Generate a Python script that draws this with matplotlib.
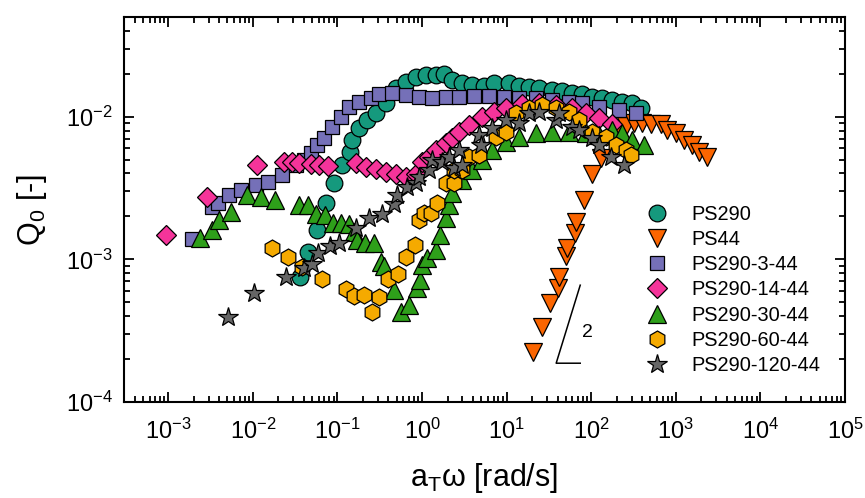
import numpy as np
import matplotlib
matplotlib.use('Agg')
import matplotlib.pyplot as plt
from matplotlib.ticker import LogLocator, NullFormatter

plt.rcParams['font.family'] = ['Liberation Sans', 'DejaVu Sans']
plt.rcParams['mathtext.fontset'] = 'custom'
plt.rcParams['mathtext.rm'] = 'Liberation Sans'
plt.rcParams['axes.unicode_minus'] = False

# Data (x = aT*omega [rad/s], y = Q0 [-])
ps290_x = [0.036, 0.0448, 0.0572, 0.0731, 0.091, 0.113, 0.1406, 0.1485, 0.1796, 0.2234,
           0.2856, 0.375, 0.492, 0.647, 0.849, 1.115, 1.46, 1.82, 2.26, 2.97, 3.91, 5.42,
           7.11, 10.7, 14.1, 18.5, 24.3, 34.5, 45.4, 59.6, 78.2, 103, 135, 177, 233, 306, 391]
ps290_y = [7.5e-4, 1.12e-3, 1.60e-3, 2.48e-3, 3.43e-3, 4.58e-3, 5.65e-3, 6.85e-3, 8.33e-3,
           9.48e-3, 1.06e-2, 1.25e-2, 1.59e-2, 1.75e-2, 1.90e-2, 1.96e-2, 1.96e-2, 2.0e-2,
           1.81e-2, 1.72e-2, 1.67e-2, 1.64e-2, 1.72e-2, 1.72e-2, 1.64e-2, 1.61e-2, 1.59e-2,
           1.54e-2, 1.51e-2, 1.47e-2, 1.44e-2, 1.37e-2, 1.35e-2, 1.31e-2, 1.27e-2, 1.25e-2,
           1.15e-2]

ps44_x = [20.6, 26.3, 32.7, 40.7, 41.8, 50.6, 52.0, 64.7, 66.4, 82.6, 103, 131, 173, 214,
          259, 323, 402, 513, 673, 793, 1014, 1262, 1567, 1897, 2360]
ps44_y = [2.23e-4, 3.34e-4, 4.92e-4, 6.28e-4, 7.50e-4, 1.05e-3, 1.20e-3, 1.53e-3, 1.82e-3,
          2.60e-3, 3.96e-3, 5.13e-3, 6.85e-3, 7.82e-3, 8.61e-3, 9.03e-3, 9.03e-3, 8.89e-3,
          8.89e-3, 8.07e-3, 7.69e-3, 6.85e-3, 6.33e-3, 5.65e-3, 5.21e-3]

b3_x = [1.90e-3, 3.27e-3, 3.85e-3, 5.20e-3, 7.21e-3, 1.09e-2, 1.51e-2, 2.20e-2, 3.23e-2,
        4.02e-2, 4.85e-2, 5.72e-2, 6.92e-2, 8.61e-2, 0.110, 0.137, 0.180, 0.249, 0.310,
        0.442, 0.647, 0.921, 1.31, 1.92, 2.74, 4.12, 6.21, 9.34, 14.1, 22.3, 34.5, 54.9,
        78.2, 124, 214, 341]
b3_y = [1.38e-3, 2.32e-3, 2.48e-3, 2.82e-3, 3.06e-3, 3.32e-3, 3.48e-3, 3.90e-3, 4.58e-3,
        4.97e-3, 5.56e-3, 6.33e-3, 7.08e-3, 8.45e-3, 9.95e-3, 1.17e-2, 1.27e-2, 1.35e-2,
        1.44e-2, 1.47e-2, 1.42e-2, 1.37e-2, 1.35e-2, 1.37e-2, 1.37e-2, 1.40e-2, 1.40e-2,
        1.37e-2, 1.35e-2, 1.35e-2, 1.31e-2, 1.27e-2, 1.25e-2, 1.17e-2, 1.11e-2, 1.06e-2]

b14_x = [9.34e-4, 2.86e-3, 1.12e-2, 2.33e-2, 2.90e-2, 3.50e-2, 4.85e-2, 6.04e-2, 7.73e-2,
         0.166, 0.217, 0.286, 0.375, 0.492, 0.647, 0.849, 1.0, 1.21, 1.46, 1.92, 2.26,
         2.74, 3.60, 5.13, 7.11, 9.86, 15.3, 24.3, 38.5, 59.6, 87.2, 124, 177]
b14_y = [1.48e-3, 2.73e-3, 4.58e-3, 4.81e-3, 4.81e-3, 4.73e-3, 4.66e-3, 4.58e-3, 4.51e-3,
         4.73e-3, 4.43e-3, 4.30e-3, 4.09e-3, 3.96e-3, 3.77e-3, 3.96e-3, 4.81e-3, 5.21e-3,
         5.83e-3, 6.53e-3, 7.08e-3, 7.82e-3, 8.75e-3, 9.95e-3, 1.08e-2, 1.15e-2, 1.23e-2,
         1.25e-2, 1.21e-2, 1.15e-2, 1.06e-2, 9.79e-3, 8.89e-3]

b30_x = [2.36e-3, 3.27e-3, 3.96e-3, 5.50e-3, 8.49e-3, 1.24e-2, 1.82e-2, 3.50e-2, 4.48e-2,
         5.57e-2, 7.11e-2, 8.85e-2, 0.110, 0.137, 0.157, 0.170, 0.212, 0.270, 0.327, 0.355,
         0.466, 0.564, 0.702, 0.873, 0.947, 1.0, 1.15, 1.46, 1.63, 1.92, 2.09, 2.26, 2.97,
         3.91, 5.13, 6.73, 9.86, 14.1, 22.3, 34.5, 54.9, 87.2, 124, 177, 233, 306, 424]
b30_y = [1.41e-3, 1.60e-3, 1.88e-3, 2.14e-3, 2.82e-3, 2.73e-3, 2.60e-3, 2.40e-3, 2.40e-3,
         2.07e-3, 2.04e-3, 1.79e-3, 1.79e-3, 1.77e-3, 1.55e-3, 1.36e-3, 1.30e-3, 1.30e-3,
         9.55e-4, 8.95e-4, 6.07e-4, 4.26e-4, 4.77e-4, 6.28e-4, 7.14e-4, 9.1e-4, 1.02e-3,
         1.16e-3, 1.48e-3, 1.95e-3, 2.40e-3, 2.91e-3, 3.60e-3, 4.23e-3, 4.97e-3, 5.83e-3,
         6.64e-3, 7.19e-3, 7.69e-3, 7.82e-3, 7.82e-3, 7.69e-3, 7.44e-3, 8.07e-3, 7.69e-3,
         6.85e-3, 6.33e-3]

b60_x = [1.68e-2, 2.60e-2, 3.80e-2, 6.56e-2, 0.126, 0.157, 0.206, 0.256, 0.310, 0.396,
         0.520, 0.647, 0.826, 0.921, 1.06, 1.28, 1.51, 1.92, 2.39, 2.39, 2.97, 3.60, 4.73,
         7.51, 9.86, 12.9, 18.5, 26.3, 38.5, 54.9, 72.1, 103, 151, 198, 259, 297]
b60_y = [1.20e-3, 1.04e-3, 8.81e-4, 7.26e-4, 6.18e-4, 5.52e-4, 5.61e-4, 4.26e-4, 5.43e-4,
         7.26e-4, 7.87e-4, 1.04e-3, 1.26e-3, 1.88e-3, 2.11e-3, 2.11e-3, 2.48e-3, 3.43e-3,
         3.43e-3, 4.23e-3, 4.23e-3, 5.21e-3, 5.38e-3, 7.21e-3, 7.82e-3, 1.06e-2, 1.15e-2,
         1.21e-2, 1.15e-2, 1.08e-2, 9.48e-3, 7.82e-3, 7.21e-3, 6.33e-3, 5.83e-3, 5.38e-3]

b120_x = [5.06e-3, 1.03e-2, 2.46e-2, 4.02e-2, 4.99e-2, 5.88e-2, 8.15e-2, 0.104, 0.166,
          0.236, 0.336, 0.466, 0.506, 0.664, 0.849, 0.921, 1.21, 1.31, 1.72, 2.09, 2.39,
          2.74, 2.97, 4.73, 4.99, 6.73, 9.86, 14.1, 18.5, 24.3, 38.5, 41.8, 59.6, 72.1,
          103, 124, 173, 246]
b120_y = [3.93e-4, 5.78e-4, 7.50e-4, 8.67e-4, 9.25e-4, 1.10e-3, 1.24e-3, 1.30e-3, 1.66e-3,
          1.95e-3, 2.07e-3, 2.44e-3, 2.82e-3, 3.21e-3, 3.43e-3, 3.77e-3, 4.23e-3, 4.97e-3,
          4.81e-3, 5.21e-3, 4.37e-3, 5.83e-3, 4.58e-3, 7.43e-3, 6.33e-3, 8.33e-3, 9.48e-3,
          9.03e-3, 1.06e-2, 1.08e-2, 9.48e-3, 1.06e-2, 8.47e-3, 8.07e-3, 7.08e-3, 6.33e-3,
          5.21e-3, 4.58e-3]

# slope-2 guide
slope_x = [74.1, 38.5, 74.1]
slope_y = [6.59e-4, 1.87e-4, 1.87e-4]

x_major = [1e-3, 1e-2, 1e-1, 1e0, 1e1, 1e2, 1e3, 1e4, 1e5]
y_major = [1e-4, 1e-3, 1e-2]

series = [
    (ps290_x, ps290_y, 'PS290', 'o', '#15997d', 12),
    (ps44_x, ps44_y, 'PS44', 'v', '#fb6500', 12.5),
    (b3_x, b3_y, 'PS290-3-44', 's', '#7570b8', 10.6),
    (b14_x, b14_y, 'PS290-14-44', 'D', '#f5349a', 10.2),
    (b30_x, b30_y, 'PS290-30-44', '^', '#2e9f1a', 12.5),
    (b60_x, b60_y, 'PS290-60-44', 'h', '#f5aa00', 12.2),
    (b120_x, b120_y, 'PS290-120-44', '*', '#666666', 14.5),
]

fig = plt.figure(figsize=(8.65, 4.98), dpi=100)
ax = fig.add_axes([0.1434, 0.1928, 0.8335, 0.7731])

for x, y, lab, mk, col, ms in series:
    ax.plot(x, y, ls='none', marker=mk, ms=ms, mfc=col, mec='black', mew=0.9, label=lab)

ax.plot(slope_x, slope_y, color='black', lw=1.1)
ax.text(89.7, 3.08e-4, '2', fontsize=14, ha='center', va='center')

ax.set_xscale('log')
ax.set_yscale('log')
ax.set_xlim(3e-4, 1e5)
ax.set_ylim(1e-4, 5e-2)

ax.set_xticks(x_major)
ax.set_yticks(y_major)
ax.xaxis.set_minor_locator(LogLocator(base=10, subs=np.arange(2, 10), numticks=20))
ax.yaxis.set_minor_locator(LogLocator(base=10, subs=np.arange(2, 10), numticks=20))
ax.xaxis.set_minor_formatter(NullFormatter())
ax.yaxis.set_minor_formatter(NullFormatter())

for s in ax.spines.values():
    s.set_linewidth(1.5)
ax.tick_params(which='both', direction='in', top=True, right=True, width=1.3)
ax.tick_params(which='major', length=7.5, labelsize=17)
ax.tick_params(axis='x', which='major', pad=12)
ax.tick_params(axis='y', which='major', pad=8)
ax.tick_params(which='minor', length=4.5)

ax.set_xlabel(r'a$_\mathregular{T}$ω [rad/s]', fontsize=22, labelpad=12)
ax.set_ylabel(r'Q$_\mathregular{0}$ [-]', fontsize=22, labelpad=12)

ax.legend(loc='upper left', bbox_to_anchor=(0.720, 0.512), frameon=False, fontsize=14.4,
          numpoints=1, handlelength=1.4, handletextpad=1.0, borderpad=0, borderaxespad=0,
          labelspacing=0.31)

fig.savefig('out.png', dpi=100)
